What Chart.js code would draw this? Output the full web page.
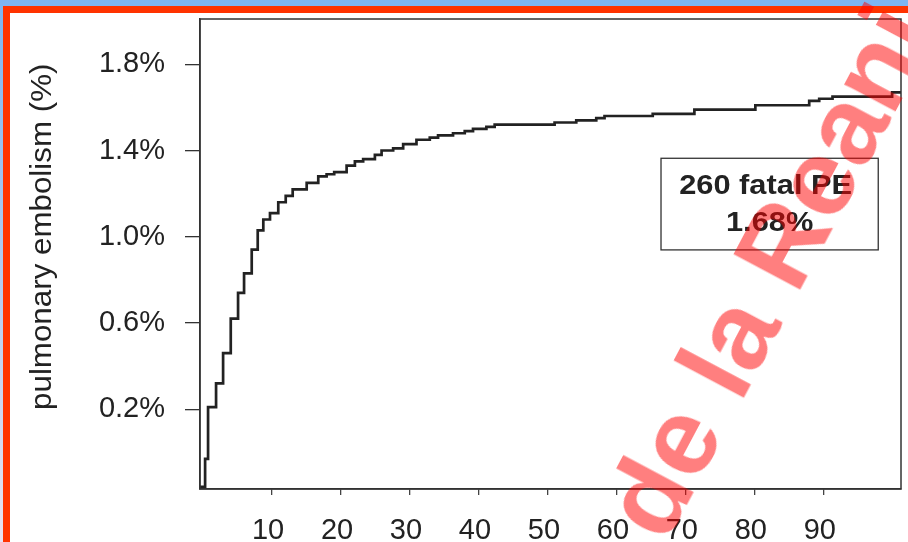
<!DOCTYPE html>
<html>
<head>
<meta charset="utf-8">
<script src="https://cdn.jsdelivr.net/npm/chart.js@4/dist/chart.umd.min.js"></script>
<style>
  html, body { margin:0; padding:0; width:908px; height:542px; overflow:hidden; }
  body { position:relative; background:linear-gradient(#7db5f2, #e9e2f2); }
  #frame { position:absolute; left:3px; top:6px; width:940px; height:580px; background:#ff3300; }
  #inner { position:absolute; left:10px; top:13px; width:940px; height:580px; background:#ffffff; }
  #c { position:absolute; left:0; top:0; }
  #wm { position:absolute; left:583px; top:501px; transform-origin:0 0; transform:rotate(-62deg);
        font-family:"Liberation Sans", Arial, sans-serif; font-weight:bold; font-size:110px;
        color:rgba(255,0,0,0.5); white-space:nowrap; line-height:1; pointer-events:none; }
</style>
</head>
<body>
<div id="frame"></div>
<div id="inner"></div>
<canvas id="c" width="908" height="542"></canvas>
<div id="wm">de la Reani</div>
<script>
// Cumulative fatal PE (%) – jump times (x) and value after each jump (y)
const times = [-0.45, 0.29, 0.72, 1.88, 2.90, 4.01, 5.07, 5.94, 7.05, 7.92, 8.73, 9.70, 10.90, 11.98, 12.99,
  15.02, 16.70, 17.91, 19.01, 20.81, 22.01, 23.21, 24.91, 25.88, 27.56, 29.01, 30.94, 32.87, 34.07,
  36.24, 37.94, 39.14, 41.08, 42.28, 50.97, 54.11, 57.01, 58.21, 65.20, 71.24, 80.08, 85.97, 87.89,
  89.34, 91.27, 99.91, 101.2];
const cumPE = [-0.16, -0.03, 0.21, 0.32, 0.46, 0.62, 0.74, 0.83, 0.94, 1.03, 1.08, 1.11, 1.16, 1.19, 1.22,
  1.25, 1.28, 1.29, 1.30, 1.33, 1.35, 1.36, 1.38, 1.40, 1.41, 1.43, 1.45, 1.46, 1.47,
  1.48, 1.49, 1.50, 1.51, 1.52, 1.53, 1.54, 1.55, 1.56, 1.57, 1.59, 1.61, 1.61, 1.63,
  1.64, 1.65, 1.67, 1.67];
const xTickValues = [10, 20, 30, 40, 50, 60, 70, 80, 90];
const yTickValues = [0.2, 0.6, 1.0, 1.4, 1.8];
const yTitle = 'pulmonary embolism (%)';
const noteLines = ['260 fatal PE', '1.68%'];

const FONT = '"Liberation Sans", Arial, sans-serif';
const INK = '#222222';

const framePlugin = {
  id: 'frameAndNotes',
  afterDraw(chart) {
    const {ctx, chartArea: a, scales: {x, y}} = chart;
    ctx.save();
    // plot box
    ctx.strokeStyle = '#333333';
    ctx.lineWidth = 1.5;
    ctx.strokeRect(a.left, a.top, a.right - a.left, a.bottom - a.top);
    // annotation box
    const bx1 = x.getPixelForValue(66.4), bx2 = x.getPixelForValue(97.9);
    const by1 = y.getPixelForValue(1.364), by2 = y.getPixelForValue(0.939);
    ctx.lineWidth = 1.3;
    ctx.strokeRect(bx1, by1, bx2 - bx1, by2 - by1);
    ctx.fillStyle = INK;
    ctx.textAlign = 'center';
    ctx.textBaseline = 'middle';
    ctx.font = 'bold 28px ' + FONT;
    const cx = (bx1 + bx2) / 2;
    ctx.save();
    ctx.translate(cx - 4, y.getPixelForValue(1.233));
    ctx.scale(1.1, 1);
    ctx.fillText(noteLines[0], 0, 0);
    ctx.restore();
    ctx.save();
    ctx.translate(cx, y.getPixelForValue(1.064));
    ctx.scale(1.1, 1);
    ctx.fillText(noteLines[1], 0, 0);
    ctx.restore();
    // y title
    ctx.font = '29px ' + FONT;
    ctx.translate(43, (y.getPixelForValue(1.8) + y.getPixelForValue(0.2)) / 2);
    ctx.rotate(-Math.PI / 2);
    ctx.scale(1.08, 1);
    ctx.fillText(yTitle, 0, 0);
    ctx.restore();
  }
};

function noPad(s) { s.paddingTop = 0; s.paddingBottom = 0; s.paddingLeft = 0; s.paddingRight = 0; }

new Chart(document.getElementById('c'), {
  type: 'line',
  data: {
    datasets: [{
      data: times.map((t, i) => ({x: t, y: cumPE[i]})),
      stepped: 'before',
      borderColor: INK,
      borderWidth: 2.7,
      pointRadius: 0,
      fill: false
    }]
  },
  options: {
    responsive: false,
    animation: false,
    events: [],
    layout: { padding: { top: 19, right: 7, left: 0, bottom: 0 } },
    plugins: { legend: { display: false }, tooltip: { enabled: false } },
    scales: {
      x: {
        type: 'linear', min: -0.45, max: 101.2,
        afterBuildTicks: s => { s.ticks = xTickValues.map(v => ({value: v})); },
        afterFit: s => { s.height = 53; noPad(s); },
        grid: { drawOnChartArea: false, tickLength: 6, color: '#444', lineWidth: 1.3 },
        border: { color: '#333', width: 1.5 },
        ticks: { font: { size: 29, family: FONT }, color: INK, padding: 19, labelOffset: -4, maxRotation: 0,
                 callback: v => String(v) }
      },
      y: {
        min: -0.17, max: 2.01,
        afterBuildTicks: s => { s.ticks = yTickValues.map(v => ({value: v})); },
        afterFit: s => { s.width = 200; noPad(s); },
        grid: { drawOnChartArea: false, tickLength: 15, color: '#333', lineWidth: 1.3 },
        border: { color: '#333', width: 1.5 },
        ticks: { font: { size: 29, family: FONT }, color: INK, padding: 20,
                 callback: v => v.toFixed(1) + '%' }
      }
    }
  },
  plugins: [framePlugin]
});
</script>
</body>
</html>
